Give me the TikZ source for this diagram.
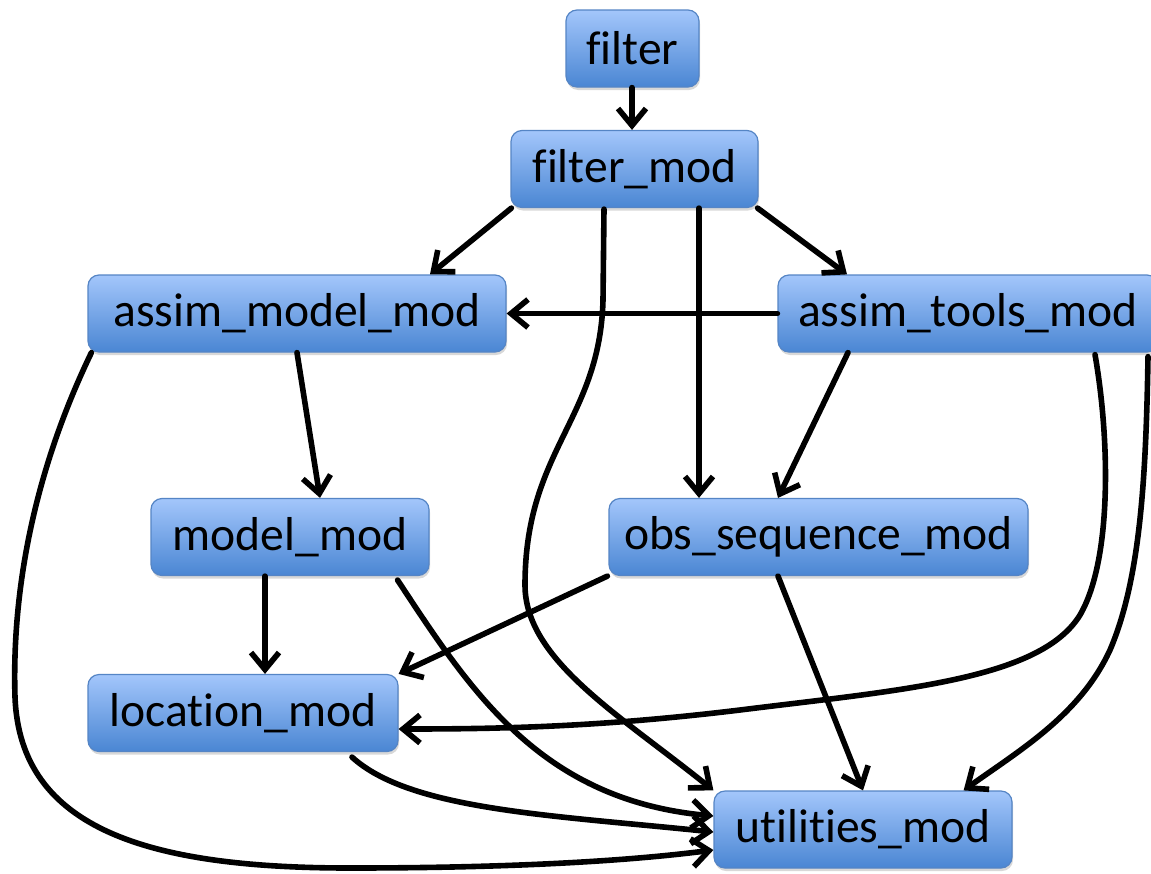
\documentclass[tikz,border=0pt]{standalone}
\usepackage{fontspec}
\setmainfont{Carlito}[Ligatures={NoCommon}]
\usetikzlibrary{arrows.meta,shadows,calc}
\definecolor{boxtop}{HTML}{A3C6FB}
\definecolor{boxbot}{HTML}{4A86D3}
\definecolor{boxline}{HTML}{5585C5}
\begin{document}
\begin{tikzpicture}[x=1pt,y=-1pt,
  mod/.style={rounded corners=11pt, draw=boxline, line width=1.2pt,
    top color=boxtop, bottom color=boxbot, minimum height=77pt, inner sep=0pt,
    font=\fontsize{47.6}{56}\selectfont,
    drop shadow={opacity=0.3, shadow xshift=1pt, shadow yshift=-3pt}},
  conn/.style={line width=5.6pt, line cap=round, -{Straight Barb[length=17pt,width=28pt]}}]
\useasboundingbox (0,0) rectangle (1151,873);
\clip (0,0) rectangle (1151,873);
\fill[white] (0,0) rectangle (1151,873);

\node[mod, minimum width=133pt] (f)   at (632.5,48.5) {filter};
\node[mod, minimum width=247pt] (fm)  at (634.5,169) {filter\_mod};
\node[mod, minimum width=418pt] (amm) at (297,313.5) {assim\_model\_mod};
\node[mod, minimum width=380pt] (atm) at (968,313.5) {assim\_tools\_mod};
\node[mod, minimum width=278pt] (mm)  at (290,537) {model\_mod};
\node[mod, minimum width=419pt] (obs) at (818.5,537) {obs\_sequence\_mod};
\node[mod, minimum width=310pt] (loc) at (243,713) {location\_mod};
\node[mod, minimum width=298pt] (ut)  at (863,829.5) {utilities\_mod};

% straight connectors
\draw[conn] ([xshift=-0.5pt]f.south) -- ([xshift=-2.5pt]fm.north);
\draw[conn] ([xshift=1pt]fm.south west) -- ([xshift=133pt]amm.north);
\draw[conn] ([xshift=-1pt]fm.south east) -- ([xshift=-121pt]atm.north);
\draw[conn] ([xshift=64.5pt]fm.south) -- ([xshift=-119.5pt]obs.north);
\draw[conn] (atm.west) -- (amm.east);
\draw[conn] ([xshift=-120pt]atm.south) -- ([xshift=-40.5pt]obs.north);
\draw[conn] ([xshift=0pt]amm.south) -- ([xshift=30pt]mm.north);
\draw[conn] ([xshift=-25pt]mm.south) -- ([xshift=22pt]loc.north);
\draw[conn] ([xshift=-1pt]obs.south west) -- (loc.north east);
\draw[conn] ([xshift=-40.5pt]obs.south) -- (ut.north);

% curved connectors
\draw[conn] ([xshift=-30.5pt,yshift=-1pt]fm.south) -- (603,300)
  .. controls (600,420) and (525,450) .. (525,585)
  .. controls (525,660) and (620,715) .. (ut.north west);
\draw[conn] ([xshift=4pt]amm.south west)
  .. controls (30,480) and (12,600) .. (15,697)
  .. controls (20,830) and (150,868) .. (350,868)
  .. controls (500,868) and (620,862) .. ([yshift=-20.5pt]ut.west);
\draw[conn] ([xshift=127pt,yshift=-2pt]atm.south)
  .. controls (1110,440) and (1112,560) .. (1080,615)
  .. controls (1040,680) and (900,690) .. (740,710)
  .. controls (600,727) and (500,729) .. ([yshift=-16pt]loc.east);
\draw[conn] ([xshift=180pt,yshift=-4pt]atm.south)
  .. controls (1146,480) and (1140,580) .. (1110,650)
  .. controls (1080,715) and (1020,750) .. ([xshift=-49pt]ut.north east);
\draw[conn] ([xshift=-32pt,yshift=-4pt]mm.south east)
  .. controls (470,690) and (540,800) .. ([yshift=13.5pt]ut.west);
\draw[conn] ([xshift=109pt,yshift=-5pt]loc.south)
  .. controls (410,810) and (550,815) .. ([yshift=-2.5pt]ut.west);
\end{tikzpicture}
\end{document}
